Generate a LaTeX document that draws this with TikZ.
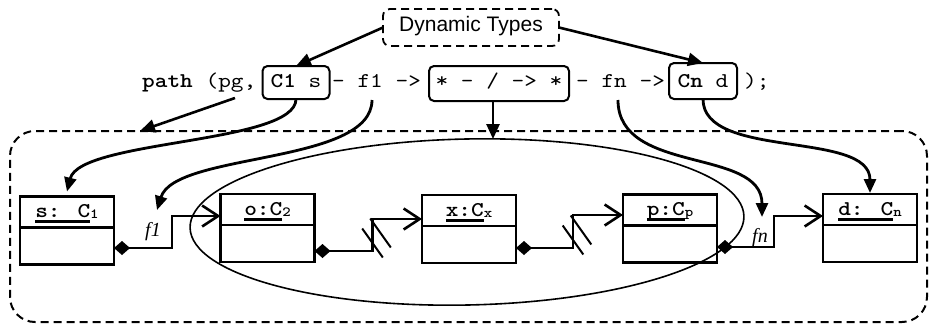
\documentclass[tikz,border=0pt]{standalone}
\usepackage{fontspec}
\setmainfont{Liberation Serif}
\setsansfont{Liberation Sans}
\newfontfamily\cmono{lmmono10-regular.otf}[BoldFont=lmmonolt10-bold.otf, FakeStretch=1.15]
\usetikzlibrary{arrows.meta,shapes.geometric}
\newcommand\codesz{\fontsize{21}{25}\selectfont\cmono}
\newsavebox\clsbx
\newcommand\clsname[2]{\sbox\clsbx{\fontsize{21}{25}\selectfont\cmono\bfseries #1}\rlap{\rule[-5.5pt]{\wd\clsbx}{2.6pt}}\usebox\clsbx\raisebox{-1pt}{\fontsize{14}{16}\selectfont\cmono\bfseries #2}}
\tikzset{
  code/.style={inner sep=0pt, font=\codesz, anchor=base west},
  codebox/.style={draw, line width=2pt, rounded corners=5pt, inner sep=0pt, outer sep=0pt, font=\codesz, anchor=base},
  dynbox/.style={draw, line width=1.8pt, dash pattern=on 8pt off 5pt, rounded corners=7pt, font=\fontsize{21}{25}\selectfont\sffamily, anchor=base, inner sep=0pt, outer sep=0pt, minimum width=176pt, text height=22pt, text depth=15pt},
  frame/.style={draw, line width=2pt, dash pattern=on 8pt off 5pt, rounded corners=25pt, minimum width=917pt, minimum height=191pt, inner sep=0pt, outer sep=0pt},
  grp/.style={draw, ellipse, line width=1.6pt, minimum width=554pt, minimum height=166pt, inner sep=0pt, outer sep=0pt},
  cls/.style={draw, line width=2.2pt, minimum width=94pt, minimum height=68pt, inner sep=0pt, outer sep=0pt},
  clslab/.style={inner sep=0pt, anchor=base},
  flab/.style={inner sep=0pt, anchor=north, font=\fontsize{20}{24}\selectfont\itshape},
  tri/.style={line width=2.6pt, -{Triangle[length=15pt,width=13pt]}},
  curv/.style={line width=2.8pt, -{Triangle[length=14pt,width=12pt]}},
  link/.style={line width=2.6pt, {Diamond[length=16pt,width=14pt]}-{Straight Barb[length=16pt,width=21pt]}},
  slash/.style={line width=2pt},
}
\begin{document}
\begin{tikzpicture}[x=1pt,y=-1pt]
\useasboundingbox (0,0) rectangle (929,325);
% top label
\node[dynbox] (dyn) at (471,31) {Dynamic Types};
% code line
\node[code] (pathtxt) at (142,87) {\textbf{path} (pg,};
\node[codebox, minimum width=67pt, text height=21pt, text depth=12pt] (c1) at (296,87) {\textbf{C1} s};
\node[code] (f1txt) at (332,87) {- f1 ->};
\node[codebox, minimum width=140pt, text height=21pt, text depth=14pt] (star) at (499,87) {* - / -> *};
\node[code] (fntxt) at (576,87) {- fn ->};
\node[codebox, minimum width=68pt, text height=24pt, text depth=12pt] (cn) at (703,87) {\textbf{Cn} d};
\node[code] (endtxt) at (744,87) {);};
% frame and group
\node[frame] (frame) at (468.5,226.5) {};
\node[grp, rotate=1.2] (grp) at (467,222) {};
% class boxes
\node[cls] (s) at (67,230.5) {};
\node[cls] (o) at (267.5,228) {};
\node[cls] (x) at (469,229) {};
\node[cls] (p) at (670,228.5) {};
\node[cls] (d) at (870,228) {};
\foreach \b in {s,o,x,p,d}{
  \draw[line width=2.2pt] ([yshift=-31pt]\b.north west) -- ([yshift=-31pt]\b.north east);
}
\node[clslab] (slab) at ([yshift=-21pt]s.north) {\clsname{s: C}{1}};
\node[clslab] (olab) at ([yshift=-21pt]o.north) {\clsname{o:C}{2}};
\node[clslab] (xlab) at ([yshift=-21pt]x.north) {\clsname{x:C}{x}};
\node[clslab] (plab) at ([yshift=-21pt]p.north) {\clsname{p:C}{p}};
\node[clslab] (dlab) at ([yshift=-21pt]d.north) {\clsname{d: C}{n}};
% field labels
\node[flab] (f1lab) at (153,222) {f1};
\node[flab] (fnlab) at (760,228) {fn};
% links between objects
\draw[link] ([yshift=-17.5pt]s.east) -- ++(58,0) |- ([yshift=12pt]o.west);
\draw[link] ([yshift=-23pt]o.east) -- ++(58,0) coordinate (b1) |- ([yshift=10pt]x.west);
\draw[link] ([yshift=-19pt]x.east) -- ++(57,0) coordinate (b2) |- ([yshift=13.5pt]p.west);
\draw[link] ([yshift=-18.5pt]p.east) -- ++(57,0) |- ([yshift=12pt]d.west);
\foreach \c in {b1,b2}{
  \draw[slash] ([shift={(-10.3,-22.5)}]\c) -- ([shift={(10.3,6.5)}]\c);
  \draw[slash] ([shift={(-2.3,-32.5)}]\c) -- ([shift={(18.3,-3.5)}]\c);
}
% arrows from the top
\draw[tri] (dyn.west) -- (c1.north);
\draw[tri] (dyn.east) -- (cn.north);
\coordinate (pgsrc) at (235,98);
\draw[tri] (pgsrc) -- ([xshift=130pt]frame.north west);
\draw[tri] ([xshift=-6pt]star.south) -- ([xshift=-6pt]star.south |- grp.north);
\draw[curv] (c1.south) .. controls +(0,45) and +(13,-52) .. ([yshift=5pt]s.north);
\coordinate (f1src) at (372,100);
\draw[curv] (f1src) .. controls +(0,65) and +(18,-58) .. ([shift={(4,-12)}]f1lab.north);
\coordinate (fnsrc) at (618,100);
\draw[curv] (fnsrc) .. controls +(0,75) and +(0,-70) .. ([shift={(2,-11)}]fnlab.north);
\draw[curv] (cn.south) .. controls +(0,61) and +(0,-63) .. ([yshift=1pt]d.north);
\end{tikzpicture}
\end{document}
